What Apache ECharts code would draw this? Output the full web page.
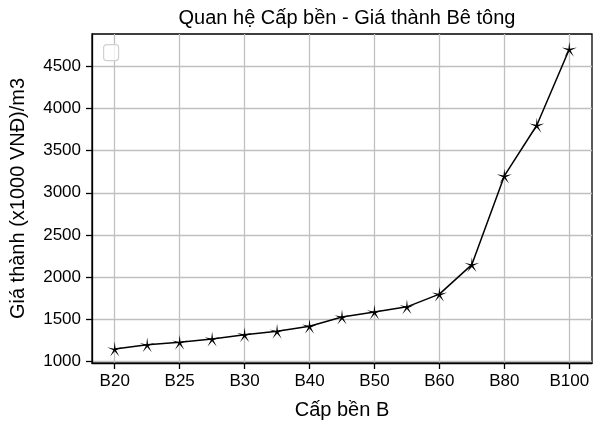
<!DOCTYPE html>
<html>
<head>
<meta charset="utf-8">
<script src="https://cdn.jsdelivr.net/npm/echarts@6/dist/echarts.min.js"></script>
<style>html,body{margin:0;padding:0;background:#fff;}#c{width:593px;height:425px;}</style>
</head>
<body>
<div id="c"></div>
<script>
const categories = ['B20','B22.5','B25','B27.5','B30','B35','B40','B45','B50','B55','B60','B70','B80','B90','B100'];
const prices = [1150,1200,1230,1270,1320,1360,1420,1530,1590,1650,1800,2150,3200,3800,4700];
const xTickIndex = [0,2,4,6,8,10,12,14];
const yTicks = [1000,1500,2000,2500,3000,3500,4000,4500];

const FONT = "'Liberation Sans', Arial, sans-serif";
const starPath = 'path://M100,0 L110.6,85.4 L195.1,69.1 L117.1,105.6 L158.8,180.9 L100,118 L41.2,180.9 L82.9,105.6 L4.9,69.1 L89.4,85.4 Z';

const chart = echarts.init(document.getElementById('c'), null, {renderer: 'canvas'});
chart.setOption({
  animation: false,
  backgroundColor: '#fff',
  title: {
    text: 'Quan hệ Cấp bền - Giá thành Bê tông',
    left: 342, top: 3, textAlign: 'center',
    textStyle: {fontFamily: FONT, fontSize: 20, fontWeight: 'normal', color: '#000'}
  },
  grid: {
    left: 92, top: 34, width: 500, height: 329.5,
    show: true, borderColor: '#000', borderWidth: 1.3, backgroundColor: 'transparent'
  },
  xAxis: {
    type: 'value', min: -0.7, max: 14.7,
    name: 'Cấp bền B', nameLocation: 'middle', nameGap: 37,
    nameTextStyle: {fontFamily: FONT, fontSize: 20, color: '#000'},
    axisLine: {show: true, onZero: false, lineStyle: {color: '#000', width: 1.3}},
    axisTick: {show: true, length: 6, lineStyle: {color: '#000', width: 1.3}, customValues: xTickIndex},
    axisLabel: {fontFamily: FONT, fontSize: 17, color: '#000', margin: 10, customValues: xTickIndex,
      formatter: v => categories[Math.round(v)]},
    splitLine: {show: true, lineStyle: {color: '#c0c0c0', width: 1.3}}
  },
  yAxis: {
    type: 'value', min: 985, max: 4880,
    name: 'Giá thành (x1000 VNĐ)/m3', nameLocation: 'middle', nameGap: 64, nameRotate: 90,
    nameTextStyle: {fontFamily: FONT, fontSize: 20, color: '#000'},
    axisLine: {show: true, onZero: false, lineStyle: {color: '#000', width: 1.3}},
    axisTick: {show: true, length: 6, lineStyle: {color: '#000', width: 1.3}, customValues: yTicks},
    axisLabel: {fontFamily: FONT, fontSize: 17, color: '#000', margin: 11, customValues: yTicks,
      formatter: v => String(Math.round(v))},
    splitLine: {show: true, lineStyle: {color: '#c0c0c0', width: 1.3}}
  },
  graphic: [{
    type: 'rect', left: 103, top: 44, z: 100,
    shape: {width: 15, height: 16, r: 3},
    style: {fill: 'rgba(255,255,255,0.8)', stroke: '#d0d0d0', lineWidth: 1.2}
  }],
  series: [{
    type: 'line',
    data: prices.map((v, i) => [i, v]),
    symbol: starPath, symbolSize: 15, showAllSymbol: true,
    lineStyle: {color: '#000', width: 1.5},
    itemStyle: {color: '#000'},
    clip: false
  }]
});
</script>
</body>
</html>
